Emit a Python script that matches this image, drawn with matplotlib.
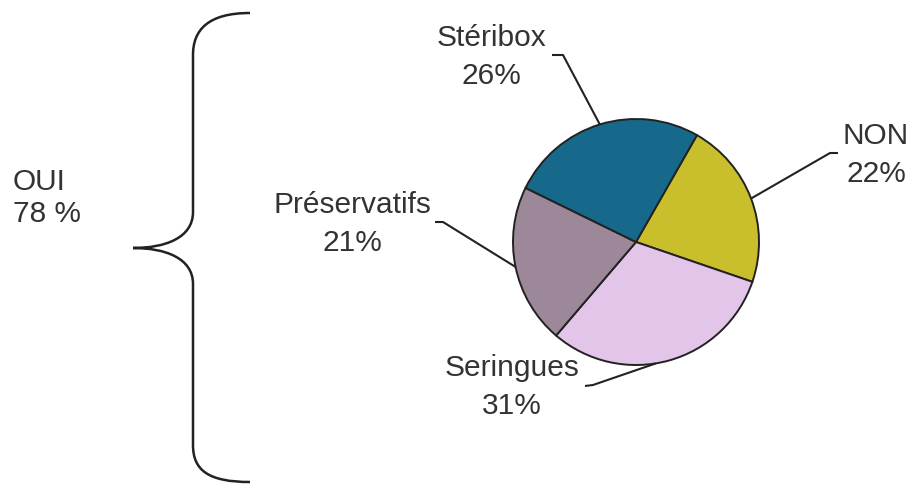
import matplotlib
matplotlib.use('Agg')
import matplotlib.pyplot as plt
from matplotlib.path import Path
from matplotlib.patches import PathPatch
import numpy as np

# data
labels = ['NON', 'Seringues', 'Préservatifs', 'Stéribox']
values = [22, 31, 21, 26]
colors = ['#c9bf2c', '#e2c5e8', '#9c8898', '#16698a']
oui_label = 'OUI'
oui_cats = ['Seringues', 'Préservatifs', 'Stéribox']

W, H = 915, 484
plt.rcParams['font.family'] = ['Liberation Sans', 'DejaVu Sans']
txt_color = '#333333'
line_color = '#222222'
fs = 21.5

fig = plt.figure(figsize=(W / 100, H / 100), dpi=100)
ax = fig.add_axes([0, 0, 1, 1])

def py(y):
    # picture y (top down) -> data y
    return H - y

cx, cy, r = 636, py(242), 123
wedges, _ = ax.pie(values, colors=colors, startangle=60.3, counterclock=False,
                   center=(cx, cy), radius=r,
                   wedgeprops=dict(edgecolor=line_color, linewidth=1.4))

# label text position, leader elbow (picture coords), leader end angle shift
label_pos = {
    'NON': ((876, 155), [(838, 153), (830, 153)], 0),
    'Seringues': ((512, 387), [(585, 386), (593, 385)], -6),
    'Préservatifs': ((352, 224), [(435, 222), (443, 222)], 0),
    'Stéribox': ((491, 57), [(552, 55), (563, 55)], 0),
}

for w, lab, val in zip(wedges, labels, values):
    (tx, ty), elbow, shift = label_pos[lab]
    ax.text(tx, py(ty), f'{lab}\n{val}%', ha='center', va='center',
            fontsize=fs, color=txt_color, linespacing=1.42)
    mid = np.deg2rad((w.theta1 + w.theta2) / 2 + shift)
    ex, ey = cx + r * np.cos(mid), cy + r * np.sin(mid)
    xs = [p[0] for p in elbow] + [ex]
    ys = [py(p[1]) for p in elbow] + [ey]
    ax.plot(xs, ys, color=line_color, lw=1.5, solid_capstyle='butt')

# brace
verts = [(250, 13), (208, 13), (193, 30), (193, 55),
         (193, 212),
         (193, 238), (165, 248), (133, 248),
         (165, 248), (193, 258), (193, 284),
         (193, 445),
         (193, 470), (208, 482), (250, 482)]
codes = [Path.MOVETO, Path.CURVE4, Path.CURVE4, Path.CURVE4,
         Path.LINETO,
         Path.CURVE4, Path.CURVE4, Path.CURVE4,
         Path.CURVE4, Path.CURVE4, Path.CURVE4,
         Path.LINETO,
         Path.CURVE4, Path.CURVE4, Path.CURVE4]
verts = [(x, py(y)) for x, y in verts]
ax.add_patch(PathPatch(Path(verts, codes), fill=False, edgecolor=line_color, lw=1.8))

oui_total = sum(v for l, v in zip(labels, values) if l in oui_cats)
ax.text(13, py(198), f'{oui_label}\n{oui_total} %', ha='left', va='center',
        fontsize=fs, color=txt_color, linespacing=1.2)

ax.set_xlim(0, W)
ax.set_ylim(0, H)
ax.set_aspect('equal')
ax.axis('off')

fig.savefig('out.png', dpi=100, facecolor='white')
